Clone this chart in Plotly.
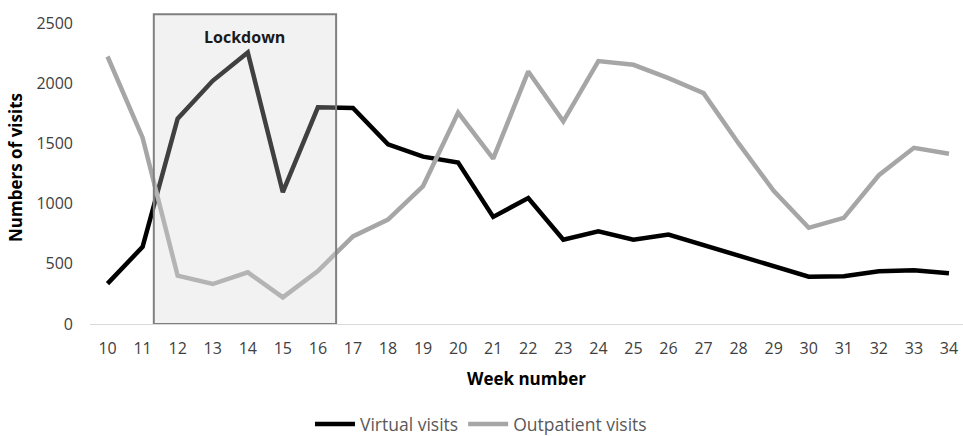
import plotly.graph_objects as go

weeks = list(range(10, 35))
virtual = [335, 641, 1705, 2020, 2255, 1095, 1800, 1795, 1492, 1390, 1342, 890, 1046,
           700, 770, 700, 743, 656, 564, 474, 393, 397, 438, 447, 421]
outpatient = [2222, 1548, 401, 332, 429, 221, 440, 728, 868, 1146, 1756, 1373, 2098,
              1684, 2184, 2153, 2042, 1918, 1500, 1106, 799, 882, 1236, 1464, 1415]
y_ticks = [0, 500, 1000, 1500, 2000, 2500]
lockdown_start, lockdown_end = 11.32, 16.52

FONT = "Open Sans"
fig = go.Figure()
fig.add_trace(go.Scatter(x=weeks, y=virtual, mode="lines", name="Virtual visits",
                         line=dict(color="#000000", width=4.5)))
fig.add_trace(go.Scatter(x=weeks, y=outpatient, mode="lines", name="Outpatient visits",
                         line=dict(color="#a6a6a6", width=4.5)))

fig.add_shape(type="rect", xref="x", yref="y", x0=lockdown_start, x1=lockdown_end,
              y0=0, y1=2573, layer="above",
              fillcolor="rgba(213,213,213,0.30)", line=dict(color="#808080", width=2))
fig.add_annotation(x=13.92, y=2382, xref="x", yref="y", text="<b>Lockdown</b>",
                   showarrow=False, font=dict(family=FONT, size=16, color="#1a1a1a"))

fig.update_layout(
    width=963, height=436,
    margin=dict(l=90, r=0, t=11, b=112),
    plot_bgcolor="white", paper_bgcolor="white",
    font=dict(family=FONT, size=16, color="#404040"),
    showlegend=True,
    legend=dict(orientation="h", x=0.252, xanchor="left",
                yref="container", y=0.027, yanchor="middle",
                font=dict(family=FONT, size=17.5, color="#595959"),
                itemwidth=40, tracegroupgap=0),
)
fig.update_xaxes(range=[9.5, 34.4], tickmode="array", tickvals=weeks,
                 ticktext=[str(w) for w in weeks], showgrid=False, zeroline=False,
                 showline=True, linecolor="#d9d9d9", linewidth=1, ticks="",
                 ticklabelstandoff=10, automargin=False,
                 title=dict(text="<b>Week number</b>", standoff=14,
                            font=dict(family=FONT, size=17, color="#000000")))
fig.update_yaxes(range=[0, 2600], tickmode="array", tickvals=y_ticks,
                 ticktext=[str(v) for v in y_ticks], showgrid=False, zeroline=False,
                 showline=False, ticks="", ticklabelstandoff=16, automargin=False,
                 title=dict(text="<b>Numbers of visits</b>", standoff=9,
                            font=dict(family=FONT, size=17, color="#000000")))

fig.write_html("out.html")
